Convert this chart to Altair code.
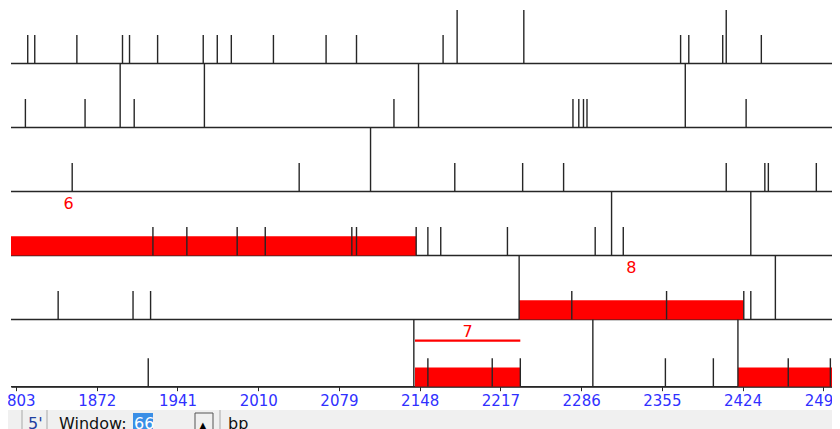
import altair as alt
import pandas as pd

# ---------------- data (positions in bp) ----------------
XMIN, XMAX = 1798.7, 2500.4
TICK_LABELS = [1803, 1872, 1941, 2010, 2079, 2148, 2217, 2286, 2355, 2424, 2493]

FRAMES = [1, 2, 3, 4, 5, 6]

# short marks (codons) per reading frame
SHORT = {
    1: [1813, 1819, 1855, 1894, 1900, 1924, 1963, 1975, 1987, 2023, 2068, 2094,
        2168, 2371, 2378, 2407, 2440],
    2: [1811, 1862, 1904, 2126, 2279, 2284, 2288, 2291, 2427],
    3: [1851, 2045, 2178, 2236, 2271, 2410, 2443, 2446, 2487],
    4: [1920, 1949, 1992, 2016, 2090, 2094, 2145, 2155, 2166, 2223, 2298, 2322],
    5: [1839, 1903, 1918, 2278, 2359, 2425, 2431],
    6: [1916, 2155, 2210, 2234, 2358, 2399, 2463, 2499],
}
# full-height marks per reading frame
TALL = {
    1: [2180, 2237, 2410],
    2: [1892, 1964, 2147, 2375],
    3: [2106],
    4: [2312, 2431],
    5: [2233, 2452],
    6: [2143, 2296, 2420],
}

ORF_FRAME = [4, 5, 6, 6]
ORF_START = [1551, 2233, 2144, 2420]
ORF_END = [2145, 2425, 2234, 2700]
ORF_LABEL = ["6", "8", "7", ""]
SELECTED = "7"

# ---------------- tables ----------------
marks_rows = []
for f in FRAMES:
    for p in SHORT[f]:
        marks_rows.append({"frame": f, "pos": p, "kind": "short"})
    for p in TALL[f]:
        marks_rows.append({"frame": f, "pos": p, "kind": "tall"})
marks_df = pd.DataFrame(marks_rows)

rows_df = pd.DataFrame({"frame": FRAMES, "x": [XMIN] * 6, "x2": [XMAX] * 6})
orf_df = pd.DataFrame({"frame": ORF_FRAME, "start": ORF_START, "end": ORF_END, "label": ORF_LABEL})
one = pd.DataFrame({"k": [0]})

FONT = "DejaVu Sans"
LINE = "#262626"
RED = "#ff0000"

XS = alt.Scale(domain=[XMIN, XMAX], nice=False, zero=False)
YS = alt.Scale(domain=[0.1328, 6.05], reverse=True, nice=False, zero=False)
BASE = "datum.frame < 6 ? datum.frame : 6.05"
XAXIS = alt.Axis(
    values=TICK_LABELS, format="d", grid=False, title=None,
    labelColor="#3030ff", labelFont=FONT, labelFontSize=15,
    labelFlush=False, labelOverlap=False, labelPadding=3,
    tickSize=4, tickColor=LINE, domainColor=LINE, domainWidth=1.3)

baselines = alt.Chart(rows_df).mark_rule(color=LINE, strokeWidth=1.3).transform_calculate(
    base=BASE
).encode(
    x=alt.X("x:Q", scale=XS, axis=XAXIS),
    x2="x2:Q",
    y=alt.Y("base:Q", scale=YS, axis=None),
)

orf_bars = alt.Chart(orf_df).mark_rect(color=RED, clip=True).transform_calculate(
    base=BASE, top=f"({BASE}) - 0.3"
).encode(
    x=alt.X("start:Q", scale=XS, axis=XAXIS),
    x2="end:Q",
    y=alt.Y("base:Q", scale=YS, axis=None),
    y2="top:Q",
)

ticks = alt.Chart(marks_df).mark_rule(color=LINE, strokeWidth=1.4, clip=True).transform_calculate(
    base=BASE,
    top=f"datum.kind == 'short' ? ({BASE}) - 0.445 : (datum.frame > 1 ? datum.frame - 1 : 0.164)",
).encode(
    x=alt.X("pos:Q", scale=XS, axis=XAXIS),
    y=alt.Y("base:Q", scale=YS, axis=None),
    y2="top:Q",
)

orf_labels = alt.Chart(orf_df).mark_text(
    color=RED, font=FONT, fontSize=16, baseline="middle", align="center", clip=True
).transform_calculate(
    mid="(datum.start + datum.end) / 2", ly="datum.frame - 1 + 0.19"
).encode(
    x=alt.X("mid:Q", scale=XS, axis=XAXIS),
    y=alt.Y("ly:Q", scale=YS, axis=None),
    text="label:N",
)

sel_line = alt.Chart(orf_df).mark_rule(color=RED, strokeWidth=2.2, clip=True).transform_filter(
    alt.datum.label == SELECTED
).transform_calculate(
    ly="datum.frame - 1 + 0.33"
).encode(
    x=alt.X("start:Q", scale=XS, axis=XAXIS),
    x2="end:Q",
    y=alt.Y("ly:Q", scale=YS, axis=None),
)

# ---------------- bottom tool strip (window chrome) ----------------
TY = 421
strip = alt.Chart(one).mark_rect(color="#f0f0f0").encode(
    x=alt.value(-11), x2=alt.value(829), y=alt.value(402), y2=alt.value(425))
seps = [alt.Chart(one).mark_rule(color="#a8a8a8", strokeWidth=1).encode(
    x=alt.value(px), y=alt.value(402), y2=alt.value(425)) for px in [11, 36, 209]]
box66 = alt.Chart(one).mark_rect(color="#3a8ee6").encode(
    x=alt.value(122), x2=alt.value(142), y=alt.value(405), y2=alt.value(425))
spin = alt.Chart(one).mark_rect(fill="#f0f0f0", stroke="#555555", strokeWidth=1).encode(
    x=alt.value(184), x2=alt.value(202), y=alt.value(405), y2=alt.value(425))


def ui_text(txt, px, color, size=16):
    return alt.Chart(one).mark_text(
        text=txt, align="left", baseline="alphabetic", font=FONT, fontSize=size, color=color
    ).encode(x=alt.value(px), y=alt.value(TY))


texts = [
    ui_text("5'", 17, "#1f3f9f"),
    ui_text("Window:", 48, "#111111"),
    ui_text("66", 123, "#ffffff"),
    ui_text("▲", 188, "#000000", 10),
    ui_text("bp", 217, "#111111"),
]

chart = alt.layer(
    baselines, orf_bars, ticks, sel_line, orf_labels, strip, *seps, box66, spin, *texts
).properties(
    width=821, height=378.7,
    padding={"left": 3, "top": 0, "right": 0, "bottom": 42.3},
    autosize=alt.AutoSizeParams(type="none"),
    background="#ffffff",
).configure_view(stroke=None)

chart.save("out.html", embed_options={"renderer": "svg", "actions": False})
